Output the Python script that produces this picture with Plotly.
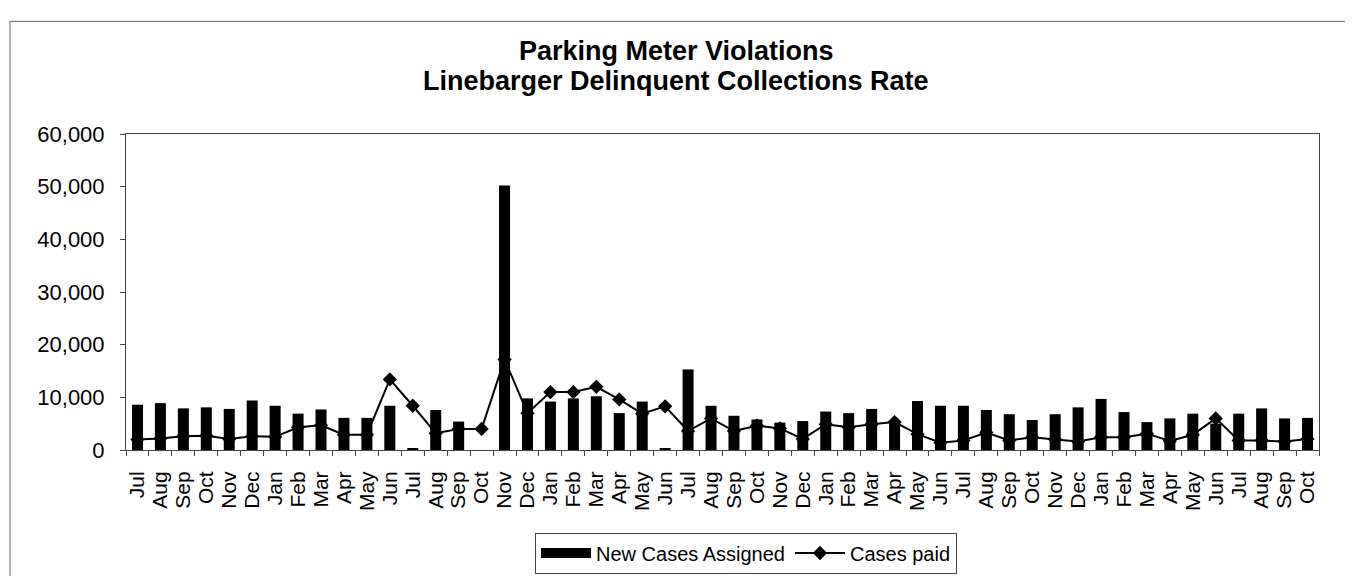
import plotly.graph_objects as go
import numpy as np

# ---- data ----
month_labels = ["Jul", "Aug", "Sep", "Oct", "Nov", "Dec", "Jan", "Feb", "Mar", "Apr", "May", "Jun",
                "Jul", "Aug", "Sep", "Oct", "Nov", "Dec", "Jan", "Feb", "Mar", "Apr", "May", "Jun",
                "Jul", "Aug", "Sep", "Oct", "Nov", "Dec", "Jan", "Feb", "Mar", "Apr", "May", "Jun",
                "Jul", "Aug", "Sep", "Oct", "Nov", "Dec", "Jan", "Feb", "Mar", "Apr", "May", "Jun",
                "Jul", "Aug", "Sep", "Oct"]

new_cases_assigned = [8600, 8900, 7900, 8100, 7800, 9400, 8400, 6900, 7700, 6100, 6100, 8400,
                      200, 7600, 5400, 0, 50200, 9800, 9200, 9800, 10200, 7000, 9200, 200,
                      15300, 8400, 6500, 5800, 5200, 5500, 7300, 7000, 7800, 5500, 9300, 8400,
                      8400, 7600, 6800, 5700, 6800, 8100, 9700, 7200, 5300, 6000, 6900, 5000,
                      6900, 7900, 6000, 6100]

cases_paid = [2000, 2200, 2600, 2700, 2100, 2600, 2500, 4300, 4700, 2900, 2900, 13400,
              8400, 3200, 4000, 4000, 17200, 7000, 11000, 11000, 12000, 9600, 6900, 8300,
              3600, 6000, 3600, 4600, 4100, 2100, 4900, 4300, 4900, 5300, 3000, 1400,
              1800, 3300, 1800, 2400, 2000, 1600, 2400, 2400, 3100, 1700, 2900, 6000,
              1800, 1800, 1600, 2100]

y_ticks = [0, 10000, 20000, 30000, 40000, 50000, 60000]

title_lines = ["Parking Meter Violations", "Linebarger Delinquent Collections Rate"]

# ---- layout geometry (pixels) ----
W, H = 1353, 576
L, R, T, B = 118, 42, 126, 133
pw, ph = W - L - R, H - T - B

def px_x(x):
    return (x - L) / pw

def px_y(y):
    return (H - B - y) / ph

FONT = "Liberation Sans, Arial, sans-serif"
xs = list(range(len(month_labels)))

fig = go.Figure()
fig.add_trace(go.Bar(
    x=xs, y=new_cases_assigned, name="New Cases Assigned",
    marker=dict(color="black", line=dict(width=0)),
    showlegend=False,
))
# legend-only entry giving the wide black swatch used in the original legend
fig.add_trace(go.Scatter(
    x=[None], y=[None], name="New Cases Assigned", mode="lines",
    line=dict(color="black", width=13),
))
fig.add_trace(go.Scatter(
    x=xs, y=cases_paid, name="Cases paid", mode="lines+markers",
    line=dict(color="black", width=2),
    marker=dict(symbol="diamond", size=11, color="black"),
))

annotations = []
for text, yc in zip(title_lines, [43, 73]):
    annotations.append(dict(
        text="<b>%s</b>" % text, xref="paper", yref="paper",
        x=px_x(668), y=px_y(yc), xanchor="center", yanchor="middle",
        showarrow=False, font=dict(family=FONT, size=27, color="black"),
    ))

fig.update_layout(
    width=W, height=H,
    margin=dict(l=L, r=R, t=T, b=B),
    paper_bgcolor="white", plot_bgcolor="white",
    font=dict(family=FONT, size=20, color="black"),
    bargap=0.52,
    showlegend=True,
    annotations=annotations,
    legend=dict(
        orientation="h", x=px_x(738), xanchor="center",
        y=px_y(545), yanchor="middle",
        bordercolor="#444", borderwidth=1, bgcolor="white",
        font=dict(family=FONT, size=20), traceorder="normal",
        itemwidth=50,
    ),
    shapes=[dict(
        type="rect", xref="paper", yref="paper",
        x0=px_x(2), x1=px_x(1338), y0=px_y(574), y1=px_y(13),
        line=dict(color="#666", width=1), fillcolor="rgba(0,0,0,0)", layer="below",
    )],
)

fig.update_xaxes(
    range=[-0.5, len(month_labels) - 0.5],
    tickmode="array", tickvals=xs, ticktext=month_labels,
    tickangle=-90, ticks="", showgrid=False, zeroline=False,
    showline=True, linecolor="#444", linewidth=1, mirror=True,
    tickfont=dict(family=FONT, size=21),
    ticklabelstandoff=12,
    minor=dict(tickmode="array", tickvals=list(np.arange(-0.5, len(month_labels), 1.0)),
               ticks="outside", ticklen=5, tickcolor="#444", showgrid=False),
)
fig.update_yaxes(
    range=[0, 60000], tickmode="array", tickvals=y_ticks,
    tickformat=",", ticks="outside", ticklen=5, tickcolor="#444",
    showgrid=False, zeroline=False,
    showline=True, linecolor="#444", linewidth=1, mirror=True,
    tickfont=dict(family=FONT, size=22),
    ticklabelstandoff=11,
)

fig.write_html("out.html")
